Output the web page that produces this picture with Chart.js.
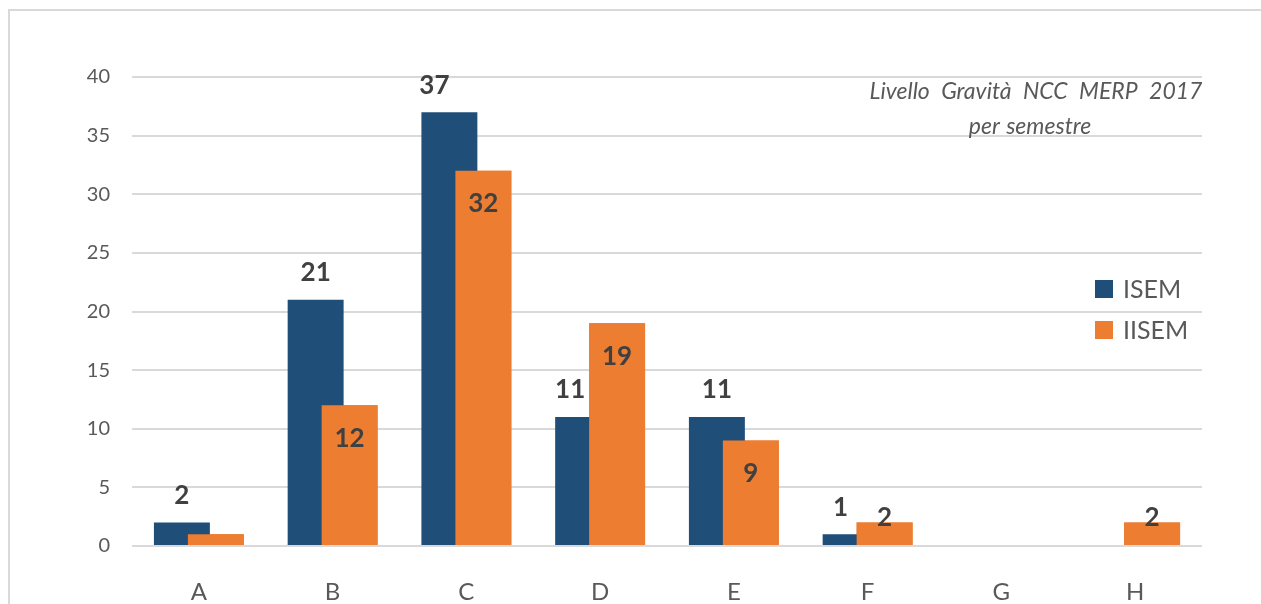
<!DOCTYPE html>
<html>
<head>
<meta charset="utf-8">
<script src="https://cdn.jsdelivr.net/npm/chart.js@4.4.1/dist/chart.umd.min.js"></script>
<style>
  html, body { margin: 0; padding: 0; background: #fff; overflow: hidden; }
  #wrap { position: relative; width: 1261px; height: 604px; }
  #frame { position: absolute; left: 8px; top: 9px; width: 1400px; height: 800px;
           border: 2px solid #d9d9d9; box-sizing: border-box; }
  canvas { position: absolute; left: 0; top: 0; }
</style>
</head>
<body>
<div id="wrap">
  <div id="frame"></div>
  <canvas id="chart" width="1261" height="604"></canvas>
</div>
<script>
// categories and values
var categories = ['A', 'B', 'C', 'D', 'E', 'F', 'G', 'H'];
var isemValues = [2, 21, 37, 11, 11, 1, 0, 0];
var iisemValues = [1, 12, 32, 19, 9, 2, 0, 2];
var yTicks = [0, 5, 10, 15, 20, 25, 30, 35, 40];
var titleLines = ['Livello Gravità NCC MERP 2017', 'per semestre'];

var BLUE = '#1f4e79';
var ORANGE = '#ed7d31';
var TEXT = '#595959';
var LABEL = '#404040';

// orange bars overlap the blue ones (like Excel), then the value labels
var valueLabels = {
    id: 'valueLabels',
    afterDatasetsDraw: function(chart, args, opts) {
        var ctx = chart.ctx;
        ctx.save();
        chart.getDatasetMeta(1).data.forEach(function(bar) {
            bar.draw(ctx, chart.chartArea);
        });
        ctx.restore();

        ctx.save();
        ctx.font = 'bold 26px Lato';
        ctx.fillStyle = LABEL;
        ctx.textAlign = 'center';
        ctx.textBaseline = 'middle';
        chart.data.datasets.forEach(function(ds, i) {
            var meta = chart.getDatasetMeta(i);
            meta.data.forEach(function(bar, j) {
                var v = ds.data[j];
                if (!v) return;
                if (i === 1 && j === 0) return; // no label in the original
                var x = bar.x, y;
                if (i === 0) {
                    x += opts.shift[j];
                    y = bar.y - 27;
                } else {
                    y = v >= 5 ? bar.y + 33 : bar.y - 5;
                }
                ctx.fillText(String(v), x, y);
            });
        });
        ctx.restore();
    }
};

// title + legend inside the plot area
var insideText = {
    id: 'insideText',
    afterDraw: function(chart) {
        var ctx = chart.ctx;
        ctx.save();
        ctx.fillStyle = TEXT;
        ctx.textAlign = 'center';
        ctx.textBaseline = 'middle';
        ctx.font = 'italic 23px Lato';
        if ('wordSpacing' in ctx) ctx.wordSpacing = '6px';
        ctx.fillText(titleLines[0], 1036, 92);
        if ('wordSpacing' in ctx) ctx.wordSpacing = '1px';
        ctx.fillText(titleLines[1], 1030, 127);
        if ('wordSpacing' in ctx) ctx.wordSpacing = '0px';

        ctx.textAlign = 'left';
        ctx.font = '25px Lato';
        chart.data.datasets.forEach(function(ds, i) {
            var cy = 289 + i * 41;
            ctx.fillStyle = ds.backgroundColor;
            ctx.fillRect(1095, cy - 9, 18, 18);
            ctx.fillStyle = TEXT;
            ctx.fillText(ds.label, 1123, cy + 1);
        });
        ctx.restore();
    }
};

var ctx = document.getElementById('chart').getContext('2d');
var chart = new Chart(ctx, {
    type: 'bar',
    data: {
        labels: categories,
        datasets: [{
            label: 'ISEM',
            data: isemValues,
            backgroundColor: BLUE,
            categoryPercentage: 0.508,
            barPercentage: 1.647
        }, {
            label: 'IISEM',
            data: iisemValues,
            backgroundColor: ORANGE,
            categoryPercentage: 0.508,
            barPercentage: 1.647
        }]
    },
    options: {
        responsive: false,
        animation: false,
        layout: { padding: { top: 77, right: 59, left: 0, bottom: 0 } },
        plugins: {
            legend: { display: false },
            tooltip: { enabled: false },
            valueLabels: { shift: [0, 0, -15, -13, 0, -10, 0, 0] }
        },
        scales: {
            x: {
                grid: { display: false },
                border: { display: false },
                ticks: { color: TEXT, font: { family: 'Lato', size: 24 }, padding: 24 },
                afterFit: function(scale) { scale.height = 58; }
            },
            y: {
                min: 0,
                max: 40,
                afterBuildTicks: function(scale) {
                    scale.ticks = yTicks.map(function(v) { return { value: v }; });
                },
                grid: { color: '#d9d9d9', lineWidth: 2, drawTicks: false },
                border: { display: false },
                ticks: { color: TEXT, font: { family: 'Lato', size: 20 }, padding: 22 },
                afterFit: function(scale) { scale.width = 132; }
            }
        }
    },
    plugins: [valueLabels, insideText]
});
</script>
</body>
</html>
